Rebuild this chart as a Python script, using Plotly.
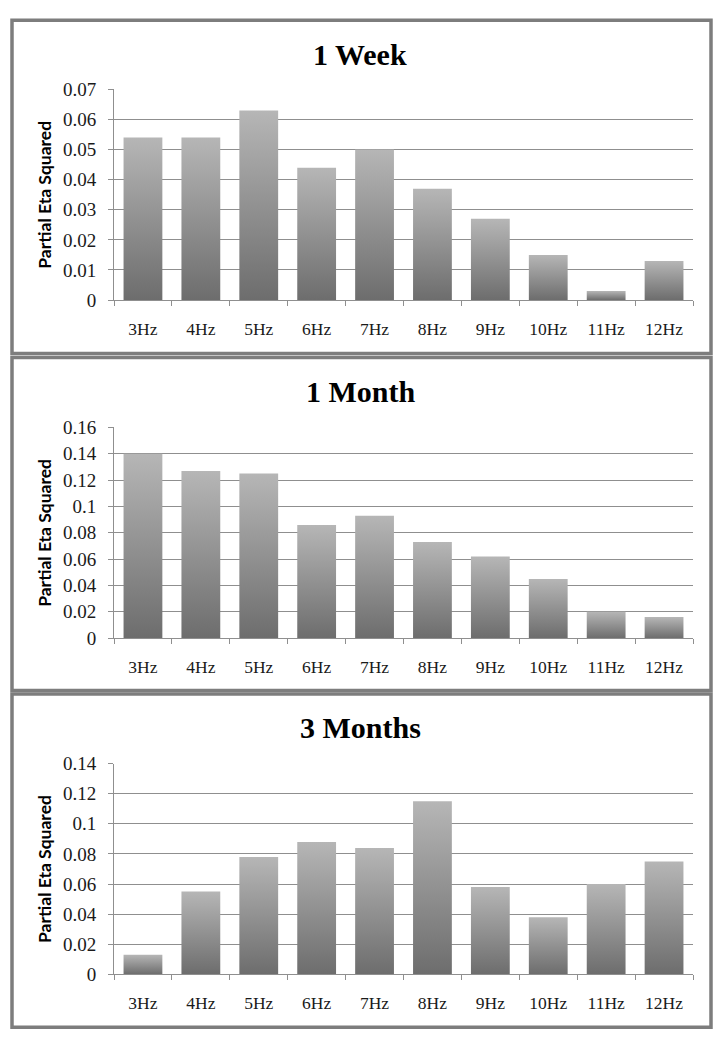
import plotly.graph_objects as go

categories = ["3Hz", "4Hz", "5Hz", "6Hz", "7Hz", "8Hz", "9Hz", "10Hz", "11Hz", "12Hz"]
week1 = [0.054, 0.054, 0.063, 0.044, 0.050, 0.037, 0.027, 0.015, 0.003, 0.013]
month1 = [0.140, 0.127, 0.125, 0.086, 0.093, 0.073, 0.062, 0.045, 0.020, 0.016]
month3 = [0.013, 0.055, 0.078, 0.088, 0.084, 0.115, 0.058, 0.038, 0.060, 0.075]
titles = ["1 Week", "1 Month", "3 Months"]
y_title = "Partial Eta Squared"
ticks_week = [0, 0.01, 0.02, 0.03, 0.04, 0.05, 0.06, 0.07]
ticklabels_week = ["0", "0.01", "0.02", "0.03", "0.04", "0.05", "0.06", "0.07"]
ticks_m1 = [0, 0.02, 0.04, 0.06, 0.08, 0.10, 0.12, 0.14, 0.16]
ticklabels_m1 = ["0", "0.02", "0.04", "0.06", "0.08", "0.1", "0.12", "0.14", "0.16"]
ticks_m3 = [0, 0.02, 0.04, 0.06, 0.08, 0.10, 0.12, 0.14]
ticklabels_m3 = ["0", "0.02", "0.04", "0.06", "0.08", "0.1", "0.12", "0.14"]

W, H = 720, 1050
panels = [
    dict(vals=week1, ticks=ticks_week, labels=ticklabels_week, top=81, bottom=296,
         box=(10.5, 350.5), title_y=45.5),
    dict(vals=month1, ticks=ticks_m1, labels=ticklabels_m1, top=426, bottom=641,
         box=(354.5, 694.5), title_y=389.5),
    dict(vals=month3, ticks=ticks_m3, labels=ticklabels_m3, top=769, bottom=984,
         box=(698, 1038), title_y=732),
]

GRID = "#8f8f8f"
BAR_W = 0.67
serif = "Liberation Serif"

fig = go.Figure()
shapes = []
annotations = []
layout = {}
xdom = [114 / W, 693 / W]

for p_i, p in enumerate(panels):
    suffix = "" if p_i == 0 else str(p_i + 1)
    xa, ya = "x" + suffix, "y" + suffix
    for i, v in enumerate(p["vals"]):
        xs = [i - BAR_W / 2, i + BAR_W / 2, i + BAR_W / 2, i - BAR_W / 2, i - BAR_W / 2]
        ys = [0, 0, v, v, 0]
        fig.add_trace(go.Scatter(
            x=xs, y=ys, xaxis=xa, yaxis=ya, mode="lines", fill="toself",
            line=dict(width=0, color="rgba(0,0,0,0)"),
            fillgradient=dict(type="vertical",
                              colorscale=[[0, "#6d6d6d"], [1, "#b6b6b6"]]),
            showlegend=False, hoverinfo="skip",
        ))
    layout["xaxis" + suffix] = dict(
        domain=xdom, anchor=ya, range=[-0.5, 9.5],
        tickmode="array", tickvals=list(range(len(categories))), ticktext=categories,
        ticks="", showgrid=False, zeroline=False,
        showline=True, linecolor=GRID, linewidth=1,
        minor=dict(tickmode="linear", tick0=-0.5, dtick=1, ticks="outside",
                   ticklen=5, tickcolor=GRID, tickwidth=1, showgrid=False),
        tickfont=dict(family=serif, size=17.5, color="#1a1a1a"),
        ticklabelstandoff=13, fixedrange=True,
    )
    layout["yaxis" + suffix] = dict(
        domain=[1 - p["bottom"] / H, 1 - p["top"] / H], anchor=xa,
        range=[0, p["ticks"][-1]], tickmode="array", tickvals=p["ticks"], ticktext=p["labels"],
        ticks="outside", ticklen=5, tickcolor=GRID, tickwidth=1,
        showgrid=True, gridcolor=GRID, gridwidth=1, zeroline=False,
        showline=True, linecolor=GRID, linewidth=1,
        tickfont=dict(family=serif, size=19, color="#1a1a1a"),
        ticklabelstandoff=8, fixedrange=True,
    )
    y0, y1 = p["box"]
    shapes.append(dict(type="rect", xref="paper", yref="paper",
                       x0=12 / W, x1=711 / W, y0=1 - y1 / H, y1=1 - y0 / H,
                       line=dict(color="#7d7d7d", width=3.5), fillcolor="rgba(0,0,0,0)",
                       layer="below"))
    annotations.append(dict(text="<b>%s</b>" % titles[p_i], xref="paper", yref="paper",
                            x=0.5, y=1 - p["title_y"] / H, xanchor="center", yanchor="middle",
                            showarrow=False, font=dict(family=serif, size=30, color="#000")))
    annotations.append(dict(text="<b>%s</b>" % y_title, xref="paper", yref="paper",
                            x=45 / W, y=1 - (p["top"] + p["bottom"]) / 2 / H,
                            xanchor="center", yanchor="middle", textangle=-90,
                            showarrow=False, font=dict(family="Lato", size=17.5, color="#000")))

fig.update_layout(
    width=W, height=H, margin=dict(l=0, r=0, t=0, b=0),
    paper_bgcolor="white", plot_bgcolor="white",
    shapes=shapes, annotations=annotations, showlegend=False, **layout,
)
fig.write_html("out.html", config={"displayModeBar": False},
               post_script="document.body.style.margin='0';")
